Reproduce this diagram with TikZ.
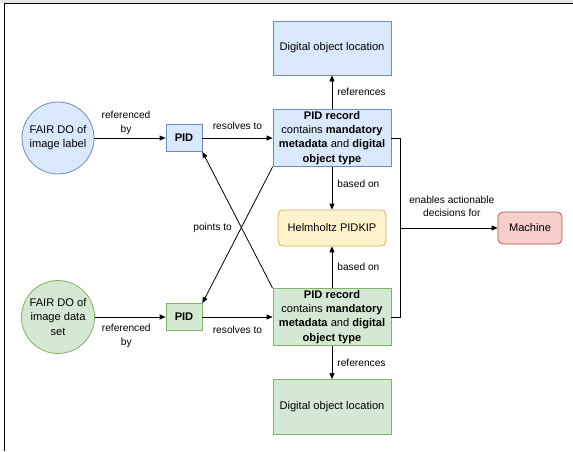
\documentclass[tikz,border=0pt]{standalone}
\usepackage{fontspec}
\setmainfont{Liberation Sans}
\usetikzlibrary{arrows.meta,positioning}
\definecolor{bfill}{HTML}{DAE8FC}\definecolor{bdraw}{HTML}{6C8EBF}
\definecolor{gfill}{HTML}{D5E8D4}\definecolor{gdraw}{HTML}{82B366}
\definecolor{yfill}{HTML}{FFF2CC}\definecolor{ydraw}{HTML}{D6B656}
\definecolor{rfill}{HTML}{F8CECC}\definecolor{rdraw}{HTML}{B85450}
\definecolor{band}{HTML}{E4E4E0}
\tikzset{
  box/.style={draw, line width=0.8pt, inner sep=2pt, align=center,
    font=\fontsize{11.1}{14.2}\selectfont},
  blue/.style={box, fill=bfill, draw=bdraw},
  green/.style={box, fill=gfill, draw=gdraw},
  circ/.style={circle, minimum size=72pt},
  rec/.style={minimum width=118pt, minimum height=54pt},
  pidbox/.style={minimum width=36pt, minimum height=27pt, font=\fontsize{11.1}{14}\selectfont\bfseries},
  arr/.style={draw, line width=0.8pt, -{Triangle[length=6pt,width=5pt]}},
  lbl/.style={font=\fontsize{10.2}{13.5}\selectfont, align=center, inner sep=2pt},
}
\begin{document}
\begin{tikzpicture}[x=1pt,y=-1pt]
\useasboundingbox (0,0) rectangle (573,451);
\fill[white] (0,0) rectangle (573,451);
\fill[band] (0,0) rectangle (573,2.5);
\draw[line width=1.2pt, black] (573,3.2) -- (4.2,3.2) -- (4.2,451);

% nodes
\node[blue, rec] (dol1) at (332,48) {Digital object location};
\node[blue, rec] (rec1) at (332,138) {\textbf{PID record}\\contains \textbf{mandatory}\\\textbf{metadata} and \textbf{digital}\\\textbf{object type}};
\node[blue, pidbox] (pid1) at (184,138) {PID};
\node[blue, circ] (c1) at (58,138) {FAIR DO of\\image label};
\node[box, fill=yfill, draw=ydraw, rounded corners=5pt, minimum width=108pt, minimum height=36pt] (helm) at (332,228) {Helmholtz PIDKIP};
\node[green, rec] (rec2) at (332,317) {\textbf{PID record}\\contains \textbf{mandatory}\\\textbf{metadata} and \textbf{digital}\\\textbf{object type}};
\node[green, pidbox] (pid2) at (184,317) {PID};
\node[green, circ] (c2) at (58,317) {FAIR DO of\\image data\\set};
\node[green, rec, minimum height=55pt] (dol2) at (332,407) {Digital object location};
\node[box, fill=rfill, draw=rdraw, rounded corners=5pt, minimum width=64pt, minimum height=32pt] (mach) at (530,228) {Machine};
\coordinate (brk) at (400,228);

% connectors
\draw[arr] (c1) -- node[lbl, above=1pt, xshift=-4pt] (l1) {referenced\\by} (pid1);
\draw[arr] (pid1) -- node[lbl, above=6pt] (l2) {resolves to} (rec1);
\draw[arr] (rec1) -- node[lbl, right=3pt] (l3) {references} (dol1);
\draw[arr] (rec1) -- node[lbl, right=3pt, yshift=4pt] (l4) {based on} (helm);
\draw[arr] (rec2) -- node[lbl, right=3pt] (l5) {based on} (helm);
\draw[arr] (rec2) -- node[lbl, right=3pt] (l6) {references} (dol2);
\draw[arr] (c2) -- node[lbl, below=5pt, xshift=-4pt] (l7) {referenced\\by} (pid2);
\draw[arr] (pid2) -- node[lbl, below=7pt] (l8) {resolves to} (rec2);
\draw[arr] (rec1.south west) -- (pid2.north east);
\draw[arr] (rec2.north west) -- node[lbl, pos=0.446, left=7pt] (l9) {points to} (pid1.south east);
\draw[line width=0.8pt] (rec1.east) -- (rec1.east -| brk) -- (rec2.east -| brk) -- (rec2.east);
\draw[arr] (brk) -- node[lbl, above=9pt, xshift=3pt] (l10) {enables actionable\\decisions for} (mach);
\end{tikzpicture}
\end{document}
